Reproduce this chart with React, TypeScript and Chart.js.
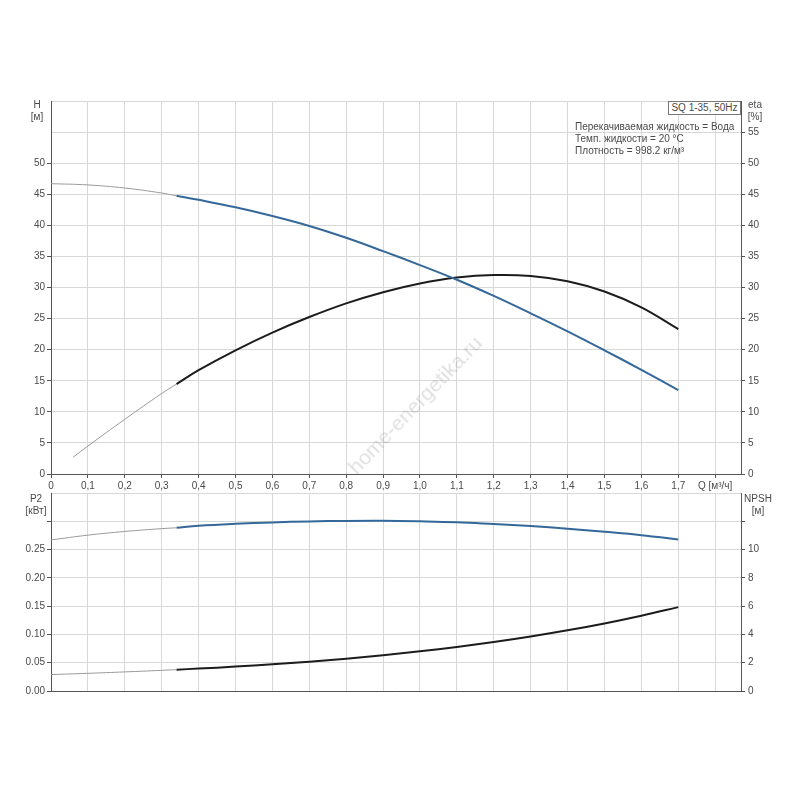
import React, { useEffect, useRef } from 'react'
import { Chart, registerables } from 'chart.js'

Chart.register(...registerables)

// Q [m3/h] for H, P2 and NPSH curves
const flow = [0, 0.1, 0.2, 0.3, 0.34, 0.4, 0.5, 0.6, 0.7, 0.8, 0.9, 1.0, 1.1, 1.2, 1.3, 1.4, 1.5, 1.6, 1.7]
const head = [46.7, 46.5, 46.0, 45.2, 44.75, 44.1, 42.9, 41.5, 39.9, 38.0, 35.85, 33.6, 31.25, 28.65, 25.85, 22.95, 19.9, 16.75, 13.5]
const power = [0.267, 0.2755, 0.282, 0.287, 0.2885, 0.292, 0.2955, 0.298, 0.2997, 0.3007, 0.3009, 0.2999, 0.2982, 0.295, 0.2915, 0.287, 0.2815, 0.2755, 0.268]
const npsh = [1.16, 1.25, 1.35, 1.46, 1.51, 1.585, 1.725, 1.885, 2.07, 2.285, 2.53, 2.805, 3.115, 3.465, 3.855, 4.29, 4.775, 5.32, 5.93]

// eta curve starts a little later
const effFlow = [0.06, 0.1, 0.2, 0.3, 0.34, 0.4, 0.5, 0.6, 0.7, 0.8, 0.9, 1.0, 1.1, 1.2, 1.3, 1.4, 1.5, 1.6, 1.7]
const efficiency = [2.7, 4.5, 8.8, 12.95, 14.45, 16.7, 19.9, 22.75, 25.25, 27.45, 29.25, 30.65, 31.6, 32.0, 31.85, 31.0, 29.35, 26.8, 23.3]

// index where thin (out of range) part turns into the working range (Q = 0.34)
const splitAt = 4

const font = { family: "'Liberation Sans', Arial, sans-serif", size: 10 }
const gridColor = '#d8d8d8'
const axisColor = '#555555'
const textColor = '#4a4a4a'
const blue = '#34689a'
const black = '#1c1c1c'
const thin = '#9a9a9a'

function pts(xs: number[], ys: number[], from: number, to: number) {
  return xs.slice(from, to).map((x, i) => ({ x, y: ys[from + i] }))
}

function curve(xs: number[], ys: number[], color: string, axis: string) {
  const base = { pointRadius: 0, fill: false, tension: 0.4, yAxisID: axis }
  return [
    { ...base, data: pts(xs, ys, 0, splitAt + 1), borderColor: thin, borderWidth: 1 },
    { ...base, data: pts(xs, ys, splitAt, xs.length), borderColor: color, borderWidth: 2 },
  ]
}

function qLabel(v: number) {
  const r = Math.round(v * 10) / 10
  if (r === 0) return '0'
  if (Math.abs(r - 1.8) < 0.001) return 'Q [м³/ч]'
  return r.toFixed(1).replace('.', ',')
}

function xScale(labels: boolean) {
  return {
    type: 'linear',
    min: 0,
    max: 1.87,
    grid: { color: gridColor, tickColor: axisColor, tickLength: 4, drawTicks: labels },
    border: { display: true, color: axisColor },
    ticks: {
      display: labels,
      stepSize: 0.1,
      includeBounds: false,
      autoSkip: false,
      maxRotation: 0,
      padding: 2,
      color: textColor,
      font,
      callback: (v: any) => qLabel(Number(v)),
    },
    afterFit: (s: any) => {
      s.height = labels ? 18 : 0
    },
  }
}

function yScale(pos: string, max: number, step: number, lastLabel: number, fmt: (v: number) => string, width: number, tickTo: number) {
  const left = pos === 'left'
  const tickColor = (c: any) => (c.tick && c.tick.value > tickTo + 1e-6 ? 'rgba(0,0,0,0)' : axisColor)
  return {
    type: 'linear',
    position: pos,
    min: 0,
    max,
    grid: left
      ? { color: gridColor, tickColor, tickLength: 4 }
      : { drawOnChartArea: false, color: tickColor, tickLength: 4 },
    border: { display: true, color: axisColor },
    ticks: {
      stepSize: step,
      padding: left ? 2 : 3,
      color: textColor,
      font,
      callback: (v: any) => (Number(v) > lastLabel + 1e-6 ? '' : fmt(Number(v))),
    },
    afterFit: (s: any) => {
      s.width = width
    },
  }
}

function PumpChart() {
  const topRef = useRef<HTMLCanvasElement>(null)
  const bottomRef = useRef<HTMLCanvasElement>(null)

  useEffect(() => {
    if (!topRef.current || !bottomRef.current) {
      return
    }

    const top = new Chart(topRef.current, {
      type: 'line',
      data: {
        datasets: [
          ...curve(flow, head, blue, 'y'),
          ...curve(effFlow, efficiency, black, 'eta'),
        ] as any,
      },
      options: {
        responsive: false,
        animation: false,
        layout: { padding: { top: 11, left: 0, right: 0, bottom: 0 } },
        plugins: { legend: { display: false }, tooltip: { enabled: false } },
        scales: {
          x: xScale(true),
          y: yScale('left', 60, 5, 50, (v) => String(v), 51, 50),
          eta: yScale('right', 60, 5, 55, (v) => String(v), 59, 55),
        } as any,
      },
    })

    const bottom = new Chart(bottomRef.current, {
      type: 'line',
      data: {
        datasets: [
          ...curve(flow, power, blue, 'y'),
          ...curve(flow, npsh, black, 'npsh'),
        ] as any,
      },
      options: {
        responsive: false,
        animation: false,
        layout: { padding: { top: 9, left: 0, right: 0, bottom: 9 } },
        plugins: { legend: { display: false }, tooltip: { enabled: false } },
        scales: {
          x: xScale(false),
          y: yScale('left', 0.35, 0.05, 0.25, (v) => v.toFixed(2), 51, 0.3),
          npsh: yScale('right', 14, 2, 10, (v) => String(Math.round(v)), 59, 12),
        } as any,
      },
    })

    return () => {
      top.destroy()
      bottom.destroy()
    }
  }, [])

  const txt: React.CSSProperties = {
    position: 'absolute',
    fontFamily: "'Liberation Sans', Arial, sans-serif",
    fontSize: 10,
    color: textColor,
    lineHeight: '12px',
    whiteSpace: 'nowrap',
  }

  return (
    <div style={{ position: 'absolute', left: 0, top: 0, width: 800, height: 800, background: '#fff', overflow: 'hidden' }}>
      <canvas ref={topRef} width={800} height={402} style={{ position: 'absolute', left: 0, top: 90 }} />
      <canvas ref={bottomRef} width={800} height={216} style={{ position: 'absolute', left: 0, top: 484 }} />

      <div style={{ ...txt, left: 22, top: 99, width: 30, textAlign: 'center' }}>H<br />[м]</div>
      <div style={{ ...txt, left: 740, top: 99, width: 30, textAlign: 'center' }}>eta<br />[%]</div>
      <div style={{ ...txt, left: 21, top: 493, width: 30, textAlign: 'center' }}>P2<br />[кВт]</div>
      <div style={{ ...txt, left: 742, top: 493, width: 32, textAlign: 'center' }}>NPSH<br />[м]</div>

      <div
        style={{
          ...txt,
          left: 668,
          top: 101,
          width: 71,
          height: 12,
          border: '1px solid #777',
          textAlign: 'center',
          background: '#fff',
        }}
      >
        SQ 1-35, 50Hz
      </div>
      <div style={{ ...txt, left: 575, top: 121 }}>
        Перекачиваемая жидкость = Вода
        <br />
        Темп. жидкости = 20 °C
        <br />
        Плотность = 998.2 кг/м³
      </div>

      <div
        style={{
          position: 'absolute',
          left: 415,
          top: 405,
          transform: 'translate(-50%, -50%) rotate(-46deg)',
          fontFamily: "'Liberation Sans', Arial, sans-serif",
          fontSize: 21,
          color: 'rgba(140,140,140,0.28)',
          whiteSpace: 'nowrap',
          pointerEvents: 'none',
        }}
      >
        home-energetika.ru
      </div>
    </div>
  )
}

export default function App() {
  return <PumpChart />
}
